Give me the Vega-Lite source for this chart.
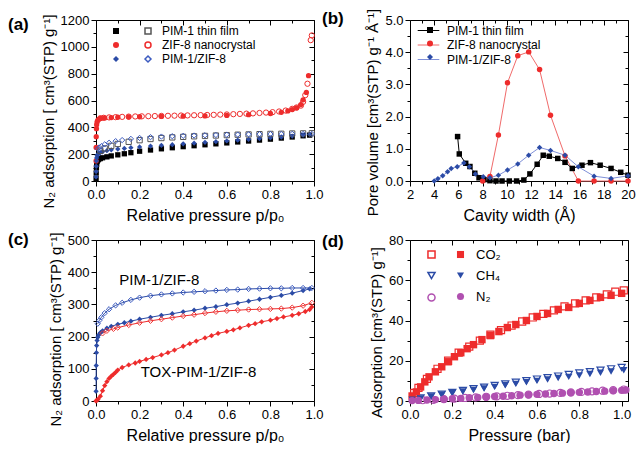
{
"$schema":"https://vega.github.io/schema/vega-lite/v6.json",
"padding":{"left":8,"top":8,"right":0,"bottom":0},
"background":"white",
"config":{
 "font":"Liberation Sans",
 "view":{"stroke":null},
 "axis":{"labelFont":"Liberation Sans","titleFont":"Liberation Sans","labelFontSize":13,"titleFontSize":16,"titleFontWeight":"normal","labelColor":"#000","titleColor":"#000","domainColor":"#000","tickColor":"#000","grid":false,"tickSize":5,"labelPadding":2,"titlePadding":4,"labelFlush":false,"labelOverlap":false},
 "axisX":{"titlePadding":6},
 "axisY":{"titleFontSize":15},
 "legend":{"labelFont":"Liberation Sans","labelColor":"#000","padding":0},
 "title":{"font":"Liberation Sans","color":"#000","fontSize":17,"fontWeight":"bold"}
},
"datasets":{
"iso":[
{"x":0.0005,"y":20,"s":"P","t":"a"},{"x":0.001,"y":60,"s":"P","t":"a"},{"x":0.002,"y":100,"s":"P","t":"a"},{"x":0.003,"y":125,"s":"P","t":"a"},{"x":0.005,"y":145,"s":"P","t":"a"},{"x":0.008,"y":155,"s":"P","t":"a"},{"x":0.012,"y":162,"s":"P","t":"a"},{"x":0.02,"y":167,"s":"P","t":"a"},{"x":0.03,"y":173,"s":"P","t":"a"},{"x":0.05,"y":180,"s":"P","t":"a"},{"x":0.07,"y":187,"s":"P","t":"a"},{"x":0.1,"y":195,"s":"P","t":"a"},{"x":0.13,"y":203,"s":"P","t":"a"},{"x":0.16,"y":211,"s":"P","t":"a"},{"x":0.2,"y":222,"s":"P","t":"a"},{"x":0.25,"y":231,"s":"P","t":"a"},{"x":0.3,"y":240,"s":"P","t":"a"},{"x":0.35,"y":248,"s":"P","t":"a"},{"x":0.4,"y":256,"s":"P","t":"a"},{"x":0.45,"y":263,"s":"P","t":"a"},{"x":0.5,"y":270,"s":"P","t":"a"},{"x":0.55,"y":277,"s":"P","t":"a"},{"x":0.6,"y":284,"s":"P","t":"a"},{"x":0.65,"y":291,"s":"P","t":"a"},{"x":0.7,"y":298,"s":"P","t":"a"},{"x":0.75,"y":305,"s":"P","t":"a"},{"x":0.8,"y":312,"s":"P","t":"a"},{"x":0.85,"y":320,"s":"P","t":"a"},{"x":0.9,"y":328,"s":"P","t":"a"},{"x":0.95,"y":337,"s":"P","t":"a"},{"x":0.98,"y":342,"s":"P","t":"a"},
{"x":0.99,"y":356,"s":"P","t":"d"},{"x":0.95,"y":355,"s":"P","t":"d"},{"x":0.9,"y":354,"s":"P","t":"d"},{"x":0.85,"y":352,"s":"P","t":"d"},{"x":0.8,"y":351,"s":"P","t":"d"},{"x":0.75,"y":349,"s":"P","t":"d"},{"x":0.7,"y":347,"s":"P","t":"d"},{"x":0.65,"y":345,"s":"P","t":"d"},{"x":0.6,"y":342,"s":"P","t":"d"},{"x":0.55,"y":339,"s":"P","t":"d"},{"x":0.5,"y":336,"s":"P","t":"d"},{"x":0.45,"y":333,"s":"P","t":"d"},{"x":0.4,"y":329,"s":"P","t":"d"},{"x":0.35,"y":325,"s":"P","t":"d"},{"x":0.3,"y":320,"s":"P","t":"d"},{"x":0.25,"y":313,"s":"P","t":"d"},{"x":0.2,"y":304,"s":"P","t":"d"},{"x":0.15,"y":292,"s":"P","t":"d"},{"x":0.1,"y":276,"s":"P","t":"d"},{"x":0.07,"y":262,"s":"P","t":"d"},{"x":0.04,"y":243,"s":"P","t":"d"},{"x":0.02,"y":225,"s":"P","t":"d"},
{"x":0.0003,"y":150,"s":"Z","t":"a"},{"x":0.0006,"y":250,"s":"Z","t":"a"},{"x":0.001,"y":330,"s":"Z","t":"a"},{"x":0.002,"y":390,"s":"Z","t":"a"},{"x":0.003,"y":420,"s":"Z","t":"a"},{"x":0.005,"y":440,"s":"Z","t":"a"},{"x":0.008,"y":452,"s":"Z","t":"a"},{"x":0.012,"y":460,"s":"Z","t":"a"},{"x":0.02,"y":466,"s":"Z","t":"a"},{"x":0.04,"y":470,"s":"Z","t":"a"},{"x":0.07,"y":473,"s":"Z","t":"a"},{"x":0.1,"y":475,"s":"Z","t":"a"},{"x":0.15,"y":477,"s":"Z","t":"a"},{"x":0.2,"y":479,"s":"Z","t":"a"},{"x":0.3,"y":481,"s":"Z","t":"a"},{"x":0.4,"y":483,"s":"Z","t":"a"},{"x":0.5,"y":485,"s":"Z","t":"a"},{"x":0.6,"y":489,"s":"Z","t":"a"},{"x":0.7,"y":494,"s":"Z","t":"a"},{"x":0.8,"y":503,"s":"Z","t":"a"},{"x":0.85,"y":512,"s":"Z","t":"a"},{"x":0.88,"y":522,"s":"Z","t":"a"},{"x":0.9,"y":532,"s":"Z","t":"a"},{"x":0.92,"y":545,"s":"Z","t":"a"},{"x":0.94,"y":570,"s":"Z","t":"a"},{"x":0.95,"y":605,"s":"Z","t":"a"},{"x":0.965,"y":660,"s":"Z","t":"a"},{"x":0.975,"y":785,"s":"Z","t":"a"},
{"x":0.99,"y":1085,"s":"Z","t":"d"},{"x":0.985,"y":1050,"s":"Z","t":"d"},{"x":0.97,"y":725,"s":"Z","t":"d"},{"x":0.96,"y":640,"s":"Z","t":"d"},{"x":0.95,"y":590,"s":"Z","t":"d"},{"x":0.94,"y":562,"s":"Z","t":"d"},{"x":0.92,"y":548,"s":"Z","t":"d"},{"x":0.9,"y":538,"s":"Z","t":"d"},{"x":0.87,"y":525,"s":"Z","t":"d"},{"x":0.84,"y":518,"s":"Z","t":"d"},{"x":0.81,"y":513,"s":"Z","t":"d"},{"x":0.78,"y":510,"s":"Z","t":"d"},{"x":0.75,"y":507,"s":"Z","t":"d"},{"x":0.72,"y":504,"s":"Z","t":"d"},{"x":0.69,"y":502,"s":"Z","t":"d"},{"x":0.66,"y":500,"s":"Z","t":"d"},{"x":0.63,"y":498,"s":"Z","t":"d"},{"x":0.6,"y":496,"s":"Z","t":"d"},{"x":0.57,"y":495,"s":"Z","t":"d"},{"x":0.54,"y":493,"s":"Z","t":"d"},{"x":0.51,"y":492,"s":"Z","t":"d"},{"x":0.48,"y":491,"s":"Z","t":"d"},{"x":0.45,"y":490,"s":"Z","t":"d"},{"x":0.42,"y":489,"s":"Z","t":"d"},{"x":0.39,"y":488,"s":"Z","t":"d"},{"x":0.36,"y":487,"s":"Z","t":"d"},{"x":0.33,"y":486,"s":"Z","t":"d"},{"x":0.3,"y":485,"s":"Z","t":"d"},{"x":0.27,"y":484,"s":"Z","t":"d"},{"x":0.24,"y":483,"s":"Z","t":"d"},{"x":0.21,"y":482,"s":"Z","t":"d"},{"x":0.18,"y":481,"s":"Z","t":"d"},{"x":0.15,"y":480,"s":"Z","t":"d"},{"x":0.12,"y":478,"s":"Z","t":"d"},{"x":0.09,"y":476,"s":"Z","t":"d"},{"x":0.06,"y":474,"s":"Z","t":"d"},{"x":0.035,"y":471,"s":"Z","t":"d"},{"x":0.02,"y":468,"s":"Z","t":"d"},
{"x":0.0003,"y":30,"s":"M","t":"a"},{"x":0.0006,"y":70,"s":"M","t":"a"},{"x":0.001,"y":110,"s":"M","t":"a"},{"x":0.002,"y":150,"s":"M","t":"a"},{"x":0.003,"y":172,"s":"M","t":"a"},{"x":0.005,"y":188,"s":"M","t":"a"},{"x":0.008,"y":198,"s":"M","t":"a"},{"x":0.012,"y":205,"s":"M","t":"a"},{"x":0.02,"y":212,"s":"M","t":"a"},{"x":0.03,"y":218,"s":"M","t":"a"},{"x":0.05,"y":226,"s":"M","t":"a"},{"x":0.07,"y":232,"s":"M","t":"a"},{"x":0.1,"y":238,"s":"M","t":"a"},{"x":0.13,"y":243,"s":"M","t":"a"},{"x":0.16,"y":248,"s":"M","t":"a"},{"x":0.2,"y":254,"s":"M","t":"a"},{"x":0.25,"y":260,"s":"M","t":"a"},{"x":0.3,"y":266,"s":"M","t":"a"},{"x":0.35,"y":271,"s":"M","t":"a"},{"x":0.4,"y":277,"s":"M","t":"a"},{"x":0.45,"y":282,"s":"M","t":"a"},{"x":0.5,"y":288,"s":"M","t":"a"},{"x":0.55,"y":293,"s":"M","t":"a"},{"x":0.6,"y":299,"s":"M","t":"a"},{"x":0.65,"y":304,"s":"M","t":"a"},{"x":0.7,"y":310,"s":"M","t":"a"},{"x":0.75,"y":316,"s":"M","t":"a"},{"x":0.8,"y":322,"s":"M","t":"a"},{"x":0.85,"y":328,"s":"M","t":"a"},{"x":0.9,"y":335,"s":"M","t":"a"},{"x":0.95,"y":343,"s":"M","t":"a"},{"x":0.98,"y":348,"s":"M","t":"a"},
{"x":0.99,"y":351,"s":"M","t":"d"},{"x":0.95,"y":351,"s":"M","t":"d"},{"x":0.9,"y":351,"s":"M","t":"d"},{"x":0.85,"y":350,"s":"M","t":"d"},{"x":0.8,"y":350,"s":"M","t":"d"},{"x":0.75,"y":349,"s":"M","t":"d"},{"x":0.7,"y":348,"s":"M","t":"d"},{"x":0.65,"y":346,"s":"M","t":"d"},{"x":0.6,"y":345,"s":"M","t":"d"},{"x":0.55,"y":343,"s":"M","t":"d"},{"x":0.5,"y":341,"s":"M","t":"d"},{"x":0.45,"y":339,"s":"M","t":"d"},{"x":0.4,"y":337,"s":"M","t":"d"},{"x":0.35,"y":334,"s":"M","t":"d"},{"x":0.3,"y":331,"s":"M","t":"d"},{"x":0.25,"y":327,"s":"M","t":"d"},{"x":0.2,"y":321,"s":"M","t":"d"},{"x":0.16,"y":314,"s":"M","t":"d"},{"x":0.12,"y":305,"s":"M","t":"d"},{"x":0.09,"y":297,"s":"M","t":"d"},{"x":0.06,"y":285,"s":"M","t":"d"},{"x":0.04,"y":273,"s":"M","t":"d"},{"x":0.025,"y":260,"s":"M","t":"d"},{"x":0.015,"y":250,"s":"M","t":"d"},{"x":0.008,"y":240,"s":"M","t":"d"},
{"x":0,"y":0,"s":"T","t":"a"},{"x":0.005,"y":3,"s":"T","t":"a"},{"x":0.01,"y":6,"s":"T","t":"a"},{"x":0.02,"y":15,"s":"T","t":"a"},{"x":0.03,"y":32,"s":"T","t":"a"},{"x":0.04,"y":48,"s":"T","t":"a"},{"x":0.05,"y":60,"s":"T","t":"a"},{"x":0.06,"y":70,"s":"T","t":"a"},{"x":0.07,"y":77,"s":"T","t":"a"},{"x":0.08,"y":83,"s":"T","t":"a"},{"x":0.09,"y":89,"s":"T","t":"a"},{"x":0.1,"y":96,"s":"T","t":"a"},{"x":0.12,"y":104,"s":"T","t":"a"},{"x":0.15,"y":112,"s":"T","t":"a"},{"x":0.18,"y":118,"s":"T","t":"a"},{"x":0.2,"y":123,"s":"T","t":"a"},{"x":0.23,"y":129,"s":"T","t":"a"},{"x":0.26,"y":135,"s":"T","t":"a"},{"x":0.3,"y":143,"s":"T","t":"a"},{"x":0.33,"y":150,"s":"T","t":"a"},{"x":0.36,"y":158,"s":"T","t":"a"},{"x":0.4,"y":170,"s":"T","t":"a"},{"x":0.43,"y":178,"s":"T","t":"a"},{"x":0.46,"y":186,"s":"T","t":"a"},{"x":0.5,"y":196,"s":"T","t":"a"},{"x":0.53,"y":203,"s":"T","t":"a"},{"x":0.56,"y":210,"s":"T","t":"a"},{"x":0.6,"y":216,"s":"T","t":"a"},{"x":0.63,"y":221,"s":"T","t":"a"},{"x":0.66,"y":227,"s":"T","t":"a"},{"x":0.7,"y":235,"s":"T","t":"a"},{"x":0.73,"y":240,"s":"T","t":"a"},{"x":0.76,"y":246,"s":"T","t":"a"},{"x":0.8,"y":251,"s":"T","t":"a"},{"x":0.83,"y":256,"s":"T","t":"a"},{"x":0.86,"y":261,"s":"T","t":"a"},{"x":0.9,"y":266,"s":"T","t":"a"},{"x":0.93,"y":271,"s":"T","t":"a"},{"x":0.96,"y":278,"s":"T","t":"a"},{"x":0.98,"y":284,"s":"T","t":"a"},{"x":0.99,"y":292,"s":"T","t":"a"},
{"x":0.99,"y":305,"s":"T","t":"d"},{"x":0.95,"y":296,"s":"T","t":"d"},{"x":0.9,"y":290,"s":"T","t":"d"},{"x":0.85,"y":287,"s":"T","t":"d"},{"x":0.8,"y":286,"s":"T","t":"d"},{"x":0.75,"y":285,"s":"T","t":"d"},{"x":0.7,"y":284,"s":"T","t":"d"},{"x":0.65,"y":282,"s":"T","t":"d"},{"x":0.6,"y":280,"s":"T","t":"d"},{"x":0.55,"y":277,"s":"T","t":"d"},{"x":0.5,"y":273,"s":"T","t":"d"},{"x":0.45,"y":268,"s":"T","t":"d"},{"x":0.4,"y":264,"s":"T","t":"d"},{"x":0.35,"y":259,"s":"T","t":"d"},{"x":0.3,"y":254,"s":"T","t":"d"},{"x":0.25,"y":249,"s":"T","t":"d"},{"x":0.2,"y":243,"s":"T","t":"d"},{"x":0.15,"y":236,"s":"T","t":"d"},{"x":0.1,"y":228,"s":"T","t":"d"},{"x":0.08,"y":224,"s":"T","t":"d"},{"x":0.05,"y":218,"s":"T","t":"d"},{"x":0.03,"y":210,"s":"T","t":"d"}
],
"psd":[
{"x":5.93,"y":1.38,"s":"P"},{"x":6.07,"y":0.84,"s":"P"},{"x":6.6,"y":0.55,"s":"P"},{"x":6.95,"y":0.45,"s":"P"},{"x":7.35,"y":0.24,"s":"P"},{"x":7.7,"y":0.1,"s":"P"},{"x":8.1,"y":0.04,"s":"P"},{"x":8.6,"y":0.01,"s":"P"},{"x":9.1,"y":0,"s":"P"},{"x":9.6,"y":0,"s":"P"},{"x":10.2,"y":0,"s":"P"},{"x":10.8,"y":0,"s":"P"},{"x":11.4,"y":0.03,"s":"P"},{"x":11.9,"y":0.22,"s":"P"},{"x":12.5,"y":0.52,"s":"P"},{"x":13.0,"y":0.8,"s":"P"},{"x":13.5,"y":0.77,"s":"P"},{"x":14.2,"y":0.7,"s":"P"},{"x":14.8,"y":0.58,"s":"P"},{"x":15.4,"y":0.39,"s":"P"},{"x":16.2,"y":0.49,"s":"P"},{"x":16.9,"y":0.57,"s":"P"},{"x":17.7,"y":0.49,"s":"P"},{"x":18.6,"y":0.39,"s":"P"},{"x":19.4,"y":0.27,"s":"P"},{"x":20,"y":0.18,"s":"P"},
{"x":8.0,"y":0,"s":"Z"},{"x":8.6,"y":0.14,"s":"Z"},{"x":9.3,"y":1.43,"s":"Z"},{"x":10.05,"y":3.05,"s":"Z"},{"x":10.9,"y":3.89,"s":"Z"},{"x":11.8,"y":4.01,"s":"Z"},{"x":12.7,"y":3.46,"s":"Z"},{"x":13.6,"y":2.04,"s":"Z"},{"x":14.8,"y":0.78,"s":"Z"},{"x":15.9,"y":0,"s":"Z"},{"x":17.2,"y":0,"s":"Z"},{"x":18.6,"y":0,"s":"Z"},{"x":20,"y":0,"s":"Z"},
{"x":4.0,"y":0,"s":"M"},{"x":4.3,"y":0.07,"s":"M"},{"x":4.7,"y":0.16,"s":"M"},{"x":5.1,"y":0.29,"s":"M"},{"x":5.4,"y":0.39,"s":"M"},{"x":5.9,"y":0.44,"s":"M"},{"x":6.45,"y":0.56,"s":"M"},{"x":6.9,"y":0.44,"s":"M"},{"x":7.4,"y":0.22,"s":"M"},{"x":8.05,"y":0.13,"s":"M"},{"x":8.6,"y":0.1,"s":"M"},{"x":9.3,"y":0.18,"s":"M"},{"x":10.05,"y":0.34,"s":"M"},{"x":10.9,"y":0.53,"s":"M"},{"x":11.8,"y":0.8,"s":"M"},{"x":12.7,"y":1.04,"s":"M"},{"x":13.6,"y":0.95,"s":"M"},{"x":14.8,"y":0.8,"s":"M"},{"x":15.9,"y":0.44,"s":"M"},{"x":17.2,"y":0.15,"s":"M"},{"x":18.6,"y":0.08,"s":"M"},{"x":20,"y":0.16,"s":"M"}
],
"gas":[
{"x":0.01,"y":2.5,"g":"C","t":"a"},{"x":0.03,"y":4.5,"g":"C","t":"a"},{"x":0.05,"y":7,"g":"C","t":"a"},{"x":0.07,"y":9.5,"g":"C","t":"a"},{"x":0.09,"y":12,"g":"C","t":"a"},{"x":0.12,"y":14.5,"g":"C","t":"a"},{"x":0.15,"y":17,"g":"C","t":"a"},{"x":0.18,"y":19.5,"g":"C","t":"a"},{"x":0.21,"y":22,"g":"C","t":"a"},{"x":0.24,"y":24,"g":"C","t":"a"},{"x":0.27,"y":26,"g":"C","t":"a"},{"x":0.3,"y":28,"g":"C","t":"a"},{"x":0.34,"y":30.5,"g":"C","t":"a"},{"x":0.38,"y":32.5,"g":"C","t":"a"},{"x":0.42,"y":34.5,"g":"C","t":"a"},{"x":0.46,"y":36.5,"g":"C","t":"a"},{"x":0.5,"y":38,"g":"C","t":"a"},{"x":0.55,"y":40,"g":"C","t":"a"},{"x":0.6,"y":42,"g":"C","t":"a"},{"x":0.65,"y":43.5,"g":"C","t":"a"},{"x":0.7,"y":45.5,"g":"C","t":"a"},{"x":0.75,"y":46.5,"g":"C","t":"a"},{"x":0.8,"y":48.5,"g":"C","t":"a"},{"x":0.85,"y":50,"g":"C","t":"a"},{"x":0.9,"y":51.5,"g":"C","t":"a"},{"x":0.95,"y":52.5,"g":"C","t":"a"},{"x":1.0,"y":53.5,"g":"C","t":"a"},
{"x":1.01,"y":55,"g":"C","t":"d"},{"x":0.97,"y":54.3,"g":"C","t":"d"},{"x":0.93,"y":53,"g":"C","t":"d"},{"x":0.88,"y":51.5,"g":"C","t":"d"},{"x":0.83,"y":50,"g":"C","t":"d"},{"x":0.78,"y":48.5,"g":"C","t":"d"},{"x":0.73,"y":47,"g":"C","t":"d"},{"x":0.68,"y":45,"g":"C","t":"d"},{"x":0.63,"y":43.3,"g":"C","t":"d"},{"x":0.58,"y":41.5,"g":"C","t":"d"},{"x":0.53,"y":39.5,"g":"C","t":"d"},{"x":0.48,"y":37.5,"g":"C","t":"d"},{"x":0.43,"y":35.2,"g":"C","t":"d"},{"x":0.38,"y":33,"g":"C","t":"d"},{"x":0.33,"y":30,"g":"C","t":"d"},{"x":0.28,"y":27,"g":"C","t":"d"},{"x":0.23,"y":24,"g":"C","t":"d"},{"x":0.18,"y":20,"g":"C","t":"d"},{"x":0.13,"y":16,"g":"C","t":"d"},{"x":0.08,"y":11,"g":"C","t":"d"},{"x":0.04,"y":6.5,"g":"C","t":"d"},{"x":0.02,"y":4,"g":"C","t":"d"},
{"x":0.01,"y":0.6,"g":"H","t":"a"},{"x":0.05,"y":1.3,"g":"H","t":"a"},{"x":0.1,"y":2.2,"g":"H","t":"a"},{"x":0.15,"y":3.1,"g":"H","t":"a"},{"x":0.2,"y":3.9,"g":"H","t":"a"},{"x":0.25,"y":4.7,"g":"H","t":"a"},{"x":0.3,"y":5.5,"g":"H","t":"a"},{"x":0.35,"y":6.2,"g":"H","t":"a"},{"x":0.4,"y":7,"g":"H","t":"a"},{"x":0.45,"y":7.8,"g":"H","t":"a"},{"x":0.5,"y":8.5,"g":"H","t":"a"},{"x":0.55,"y":9.3,"g":"H","t":"a"},{"x":0.6,"y":10,"g":"H","t":"a"},{"x":0.65,"y":10.7,"g":"H","t":"a"},{"x":0.7,"y":11.4,"g":"H","t":"a"},{"x":0.75,"y":12,"g":"H","t":"a"},{"x":0.8,"y":12.7,"g":"H","t":"a"},{"x":0.85,"y":13.4,"g":"H","t":"a"},{"x":0.9,"y":14,"g":"H","t":"a"},{"x":0.95,"y":14.7,"g":"H","t":"a"},{"x":1.01,"y":15.3,"g":"H","t":"a"},
{"x":1.0,"y":16.7,"g":"H","t":"d"},{"x":0.95,"y":16,"g":"H","t":"d"},{"x":0.9,"y":15.3,"g":"H","t":"d"},{"x":0.85,"y":14.6,"g":"H","t":"d"},{"x":0.8,"y":13.9,"g":"H","t":"d"},{"x":0.75,"y":13.2,"g":"H","t":"d"},{"x":0.7,"y":12.4,"g":"H","t":"d"},{"x":0.65,"y":11.6,"g":"H","t":"d"},{"x":0.6,"y":10.9,"g":"H","t":"d"},{"x":0.55,"y":10.1,"g":"H","t":"d"},{"x":0.5,"y":9.3,"g":"H","t":"d"},{"x":0.45,"y":8.5,"g":"H","t":"d"},{"x":0.4,"y":7.7,"g":"H","t":"d"},{"x":0.35,"y":6.9,"g":"H","t":"d"},{"x":0.3,"y":6.1,"g":"H","t":"d"},{"x":0.25,"y":5.2,"g":"H","t":"d"},{"x":0.2,"y":4.3,"g":"H","t":"d"},{"x":0.15,"y":3.4,"g":"H","t":"d"},{"x":0.1,"y":2.5,"g":"H","t":"d"},{"x":0.05,"y":1.5,"g":"H","t":"d"},
{"x":0.01,"y":0.2,"g":"N","t":"a"},{"x":0.04,"y":0.3,"g":"N","t":"a"},{"x":0.08,"y":0.5,"g":"N","t":"a"},{"x":0.12,"y":0.7,"g":"N","t":"a"},{"x":0.16,"y":0.9,"g":"N","t":"a"},{"x":0.2,"y":1.1,"g":"N","t":"a"},{"x":0.24,"y":1.3,"g":"N","t":"a"},{"x":0.28,"y":1.6,"g":"N","t":"a"},{"x":0.32,"y":1.8,"g":"N","t":"a"},{"x":0.36,"y":2.0,"g":"N","t":"a"},{"x":0.4,"y":2.2,"g":"N","t":"a"},{"x":0.44,"y":2.4,"g":"N","t":"a"},{"x":0.48,"y":2.6,"g":"N","t":"a"},{"x":0.52,"y":2.9,"g":"N","t":"a"},{"x":0.56,"y":3.1,"g":"N","t":"a"},{"x":0.6,"y":3.3,"g":"N","t":"a"},{"x":0.64,"y":3.5,"g":"N","t":"a"},{"x":0.68,"y":3.7,"g":"N","t":"a"},{"x":0.72,"y":3.9,"g":"N","t":"a"},{"x":0.76,"y":4.1,"g":"N","t":"a"},{"x":0.8,"y":4.3,"g":"N","t":"a"},{"x":0.84,"y":4.5,"g":"N","t":"a"},{"x":0.88,"y":4.7,"g":"N","t":"a"},{"x":0.92,"y":4.9,"g":"N","t":"a"},{"x":0.96,"y":5.1,"g":"N","t":"a"},{"x":1.0,"y":5.3,"g":"N","t":"a"},{"x":1.02,"y":5.5,"g":"N","t":"a"},
{"x":1.01,"y":5.7,"g":"N","t":"d"},{"x":0.96,"y":5.4,"g":"N","t":"d"},{"x":0.91,"y":5.1,"g":"N","t":"d"},{"x":0.86,"y":4.8,"g":"N","t":"d"},{"x":0.81,"y":4.5,"g":"N","t":"d"},{"x":0.76,"y":4.3,"g":"N","t":"d"},{"x":0.71,"y":4.0,"g":"N","t":"d"},{"x":0.66,"y":3.7,"g":"N","t":"d"},{"x":0.61,"y":3.5,"g":"N","t":"d"},{"x":0.56,"y":3.2,"g":"N","t":"d"},{"x":0.51,"y":2.9,"g":"N","t":"d"},{"x":0.46,"y":2.6,"g":"N","t":"d"},{"x":0.41,"y":2.3,"g":"N","t":"d"},{"x":0.36,"y":2.1,"g":"N","t":"d"},{"x":0.31,"y":1.8,"g":"N","t":"d"},{"x":0.26,"y":1.5,"g":"N","t":"d"},{"x":0.21,"y":1.2,"g":"N","t":"d"},{"x":0.16,"y":0.9,"g":"N","t":"d"},{"x":0.11,"y":0.6,"g":"N","t":"d"},{"x":0.06,"y":0.4,"g":"N","t":"d"}
]
},
"columns":2,
"spacing":{"row":59,"column":96},
"bounds":"flush",
"concat":[
{
 "width":218,"height":161,
 "title":{"text":"(a)","anchor":"start","frame":"group","dx":-88,"offset":-20},
 "data":{"name":"iso"},
 "layer":[
  {"encoding":{
    "x":{"field":"x","type":"quantitative","scale":{"domain":[0,1],"nice":false},"axis":{"values":[0,0.2,0.4,0.6,0.8,1],"format":".1f","title":"Relative pressure p/p₀"}},
    "y":{"field":"y","type":"quantitative","scale":{"domain":[0,1200],"nice":false},"axis":{"values":[0,200,400,600,800,1000,1200],"format":"d","title":"N₂ adsorption [ cm³(STP) g⁻¹]","titleY":91}}},
   "layer":[
    {"transform":[{"filter":"datum.t=='a' && (datum.s=='P' || datum.s=='Z' || datum.s=='M')"}],
     "mark":{"type":"point","filled":true,"size":28,"opacity":1},
     "encoding":{
      "color":{"field":"s","type":"nominal","scale":{"domain":["P","Z","M"],"range":["#000000","#EE2C2C","#2B4BA6"]},"legend":{"orient":"none","legendX":14,"legendY":5,"title":null,"labelExpr":"''","labelFontSize":12,"rowPadding":2,"symbolSize":36}},
      "shape":{"field":"s","type":"nominal","scale":{"domain":["P","Z","M"],"range":["square","circle","diamond"]},"legend":{"orient":"none","legendX":14,"legendY":5,"title":null,"labelExpr":"''","labelFontSize":12,"rowPadding":2,"symbolSize":36}}}},
    {"transform":[{"filter":"datum.t=='d' && (datum.s=='P' || datum.s=='Z' || datum.s=='M')"}],
     "mark":{"type":"point","filled":false,"size":28,"opacity":1,"strokeWidth":1},
     "encoding":{
      "color":{"field":"s","type":"nominal","scale":{"domain":["P","Z","M"],"range":["#555555","#EE2C2C","#3C5BC0"]},"legend":{"orient":"none","legendX":46,"legendY":5,"title":null,"labelFontSize":12,"labelOffset":8,"rowPadding":2,"symbolSize":36,"labelExpr":"datum.label=='P'?'PIM-1 thin film':datum.label=='Z'?'ZIF-8 nanocrystal':'PIM-1/ZIF-8'"}},
      "shape":{"field":"s","type":"nominal","scale":{"domain":["P","Z","M"],"range":["square","circle","diamond"]},"legend":{"orient":"none","legendX":46,"legendY":5,"title":null,"labelFontSize":12,"labelOffset":8,"rowPadding":2,"symbolSize":36,"labelExpr":"datum.label=='P'?'PIM-1 thin film':datum.label=='Z'?'ZIF-8 nanocrystal':'PIM-1/ZIF-8'"}}}}
   ],
   "resolve":{"scale":{"color":"independent","shape":"independent"}}},
  {"mark":{"type":"point","opacity":0,"clip":true},"encoding":{
    "x":{"field":"x","type":"quantitative","scale":{"domain":[0,1],"nice":false},"axis":{"orient":"bottom","values":[0.1,0.3,0.5,0.7,0.9],"labels":false,"domain":false,"tickSize":3,"title":null}},
    "y":{"field":"y","type":"quantitative","scale":{"domain":[0,1200],"nice":false},"axis":{"orient":"left","values":[100,300,500,700,900,1100],"labels":false,"domain":false,"tickSize":3,"title":null}}}},
  {"mark":{"type":"point","opacity":0,"clip":true},"encoding":{
    "x":{"field":"x","type":"quantitative","scale":{"domain":[0,1],"nice":false},"axis":{"orient":"top","values":[0,0.2,0.4,0.6,0.8,1],"labels":false,"tickSize":-5,"title":null}},
    "y":{"field":"y","type":"quantitative","scale":{"domain":[0,1200],"nice":false},"axis":{"orient":"right","values":[0,200,400,600,800,1000,1200],"labels":false,"tickSize":-5,"title":null}}}},
  {"mark":{"type":"point","opacity":0,"clip":true},"encoding":{
    "x":{"field":"x","type":"quantitative","scale":{"domain":[0,1],"nice":false},"axis":{"orient":"top","values":[0.1,0.3,0.5,0.7,0.9],"labels":false,"domain":false,"tickSize":-3,"title":null}},
    "y":{"field":"y","type":"quantitative","scale":{"domain":[0,1200],"nice":false},"axis":{"orient":"right","values":[100,300,500,700,900,1100],"labels":false,"domain":false,"tickSize":-3,"title":null}}}}
 ],
 "resolve":{"axis":{"x":"independent","y":"independent"}}
},
{
 "width":218,"height":161,
 "title":{"text":"(b)","anchor":"start","frame":"group","dx":-88,"offset":-20},
 "data":{"name":"psd"},
 "layer":[
  {"encoding":{
    "x":{"field":"x","type":"quantitative","scale":{"domain":[2,20],"nice":false},"axis":{"values":[2,4,6,8,10,12,14,16,18,20],"title":"Cavity width (Å)"}},
    "y":{"field":"y","type":"quantitative","scale":{"domain":[0,5],"nice":false},"axis":{"values":[0,1,2,3,4,5],"format":".1f","title":"Pore volume [cm³(STP) g⁻¹ Å⁻¹]","titleY":92}}},
   "layer":[
    {"mark":{"type":"line","strokeWidth":1},
     "encoding":{"color":{"field":"s","type":"nominal","scale":{"domain":["P","Z","M"],"range":["#000000","#F06A6A","#7F90D8"]},"legend":{"orient":"none","legendX":12,"legendY":4,"title":null,"symbolType":"M-1.8,0H1.8","symbolSize":144,"symbolStrokeWidth":1,"labelFontSize":12,"labelOffset":12,"rowPadding":1.5,"labelExpr":"datum.label=='P'?'PIM-1 thin film':datum.label=='Z'?'ZIF-8 nanocrystal':'PIM-1/ZIF-8'"}}}},
    {"mark":{"type":"point","filled":true,"size":30,"opacity":1},
     "encoding":{
      "color":{"field":"s","type":"nominal","scale":{"domain":["P","Z","M"],"range":["#000000","#EE2C2C","#2B4BA6"]},"legend":{"orient":"none","legendX":14,"legendY":4,"title":null,"labelExpr":"''","labelFontSize":12,"rowPadding":1.5,"symbolSize":36}},
      "shape":{"field":"s","type":"nominal","scale":{"domain":["P","Z","M"],"range":["square","circle","diamond"]},"legend":{"orient":"none","legendX":14,"legendY":4,"title":null,"labelExpr":"''","labelFontSize":12,"rowPadding":1.5,"symbolSize":36}}}}
   ],
   "resolve":{"scale":{"color":"independent","shape":"independent"}}},
  {"mark":{"type":"point","opacity":0,"clip":true},"encoding":{
    "x":{"field":"x","type":"quantitative","scale":{"domain":[2,20],"nice":false},"axis":{"orient":"bottom","values":[3,5,7,9,11,13,15,17,19],"labels":false,"domain":false,"tickSize":3,"title":null}},
    "y":{"field":"y","type":"quantitative","scale":{"domain":[0,5],"nice":false},"axis":{"orient":"left","values":[0.5,1.5,2.5,3.5,4.5],"labels":false,"domain":false,"tickSize":3,"title":null}}}},
  {"mark":{"type":"point","opacity":0,"clip":true},"encoding":{
    "x":{"field":"x","type":"quantitative","scale":{"domain":[2,20],"nice":false},"axis":{"orient":"top","values":[2,4,6,8,10,12,14,16,18,20],"labels":false,"tickSize":-5,"title":null}},
    "y":{"field":"y","type":"quantitative","scale":{"domain":[0,5],"nice":false},"axis":{"orient":"right","values":[0,1,2,3,4,5],"labels":false,"tickSize":-5,"title":null}}}},
  {"mark":{"type":"point","opacity":0,"clip":true},"encoding":{
    "x":{"field":"x","type":"quantitative","scale":{"domain":[2,20],"nice":false},"axis":{"orient":"top","values":[3,5,7,9,11,13,15,17,19],"labels":false,"domain":false,"tickSize":-3,"title":null}},
    "y":{"field":"y","type":"quantitative","scale":{"domain":[0,5],"nice":false},"axis":{"orient":"right","values":[0.5,1.5,2.5,3.5,4.5],"labels":false,"domain":false,"tickSize":-3,"title":null}}}}
 ],
 "resolve":{"axis":{"x":"independent","y":"independent"}}
},
{
 "width":218,"height":161,
 "title":{"text":"(c)","anchor":"start","frame":"group","dx":-88,"offset":-17},
 "data":{"name":"iso"},
 "layer":[
  {"encoding":{
    "x":{"field":"x","type":"quantitative","scale":{"domain":[0,1],"nice":false},"axis":{"values":[0,0.2,0.4,0.6,0.8,1],"format":".1f","title":"Relative pressure p/p₀"}},
    "y":{"field":"y","type":"quantitative","scale":{"domain":[0,500],"nice":false},"axis":{"values":[0,100,200,300,400,500],"title":"N₂ adsorption [ cm³(STP) g⁻¹]","titleY":89}}},
   "layer":[
    {"transform":[{"filter":"datum.s=='M' || datum.s=='T'"}],
     "mark":{"type":"line","strokeWidth":1},
     "encoding":{"color":{"field":"s","type":"nominal","scale":{"domain":["M","T"],"range":["#2B4BA6","#EE2C2C"]},"legend":null},"detail":{"field":"t","type":"nominal"}}},
    {"transform":[{"filter":"datum.t=='a' && (datum.s=='M' || datum.s=='T')"}],
     "mark":{"type":"point","shape":"diamond","filled":true,"size":28,"opacity":1},
     "encoding":{"color":{"field":"s","type":"nominal","scale":{"domain":["M","T"],"range":["#2B4BA6","#EE2C2C"]},"legend":null}}},
    {"transform":[{"filter":"datum.t=='d' && (datum.s=='M' || datum.s=='T')"}],
     "mark":{"type":"point","shape":"diamond","filled":false,"size":28,"opacity":1,"strokeWidth":1},
     "encoding":{"color":{"field":"s","type":"nominal","scale":{"domain":["M","T"],"range":["#3C5BC0","#EE3A3A"]},"legend":null}}},
    {"data":{"values":[{"x":0.29,"y":375,"label":"PIM-1/ZIF-8"},{"x":0.47,"y":90,"label":"TOX-PIM-1/ZIF-8"}]},
     "mark":{"type":"text","fontSize":15,"font":"Liberation Sans","color":"#000"},
     "encoding":{"text":{"field":"label","type":"nominal"}}}
   ],
   "resolve":{"scale":{"color":"independent"}}},
  {"mark":{"type":"point","opacity":0,"clip":true},"encoding":{
    "x":{"field":"x","type":"quantitative","scale":{"domain":[0,1],"nice":false},"axis":{"orient":"bottom","values":[0.1,0.3,0.5,0.7,0.9],"labels":false,"domain":false,"tickSize":3,"title":null}},
    "y":{"field":"y","type":"quantitative","scale":{"domain":[0,500],"nice":false},"axis":{"orient":"left","values":[50,150,250,350,450],"labels":false,"domain":false,"tickSize":3,"title":null}}}},
  {"mark":{"type":"point","opacity":0,"clip":true},"encoding":{
    "x":{"field":"x","type":"quantitative","scale":{"domain":[0,1],"nice":false},"axis":{"orient":"top","values":[0,0.2,0.4,0.6,0.8,1],"labels":false,"tickSize":-5,"title":null}},
    "y":{"field":"y","type":"quantitative","scale":{"domain":[0,500],"nice":false},"axis":{"orient":"right","values":[0,100,200,300,400,500],"labels":false,"tickSize":-5,"title":null}}}},
  {"mark":{"type":"point","opacity":0,"clip":true},"encoding":{
    "x":{"field":"x","type":"quantitative","scale":{"domain":[0,1],"nice":false},"axis":{"orient":"top","values":[0.1,0.3,0.5,0.7,0.9],"labels":false,"domain":false,"tickSize":-3,"title":null}},
    "y":{"field":"y","type":"quantitative","scale":{"domain":[0,500],"nice":false},"axis":{"orient":"right","values":[50,150,250,350,450],"labels":false,"domain":false,"tickSize":-3,"title":null}}}}
 ],
 "resolve":{"axis":{"x":"independent","y":"independent"}}
},
{
 "width":218,"height":161,
 "title":{"text":"(d)","anchor":"start","frame":"group","dx":-88,"offset":-17},
 "data":{"name":"gas"},
 "layer":[
  {"encoding":{
    "x":{"field":"x","type":"quantitative","scale":{"domain":[0,1.03],"nice":false},"axis":{"values":[0,0.2,0.4,0.6,0.8,1],"format":".1f","title":"Pressure (bar)"}},
    "y":{"field":"y","type":"quantitative","scale":{"domain":[0,80],"nice":false},"axis":{"values":[0,20,40,60,80],"title":"Adsorption [cm³(STP) g⁻¹]","titleY":92}}},
   "layer":[
    {"transform":[{"filter":"datum.t=='d'"}],
     "mark":{"type":"point","filled":false,"size":50,"opacity":1,"strokeWidth":1.2},
     "encoding":{
      "color":{"field":"g","type":"nominal","scale":{"domain":["C","H","N"],"range":["#EE2C2C","#2B4BA6","#B050B0"]},"legend":{"orient":"none","legendX":15,"legendY":8,"title":null,"labelExpr":"''","labelFontSize":13,"rowPadding":7,"symbolSize":50}},
      "shape":{"field":"g","type":"nominal","scale":{"domain":["C","H","N"],"range":["square","triangle-down","circle"]},"legend":{"orient":"none","legendX":15,"legendY":8,"title":null,"labelExpr":"''","labelFontSize":13,"rowPadding":7,"symbolSize":50}}}},
    {"transform":[{"filter":"datum.t=='a'"}],
     "mark":{"type":"point","filled":true,"size":55,"opacity":1},
     "encoding":{
      "color":{"field":"g","type":"nominal","scale":{"domain":["C","H","N"],"range":["#EE2C2C","#2B4BA6","#B050B0"]},"legend":{"orient":"none","legendX":44,"legendY":8,"title":null,"labelFontSize":13,"labelOffset":9,"rowPadding":7,"symbolSize":50,"labelExpr":"datum.label=='C'?'CO₂':datum.label=='H'?'CH₄':'N₂'"}},
      "shape":{"field":"g","type":"nominal","scale":{"domain":["C","H","N"],"range":["square","triangle-down","circle"]},"legend":{"orient":"none","legendX":44,"legendY":8,"title":null,"labelFontSize":13,"labelOffset":9,"rowPadding":7,"symbolSize":50,"labelExpr":"datum.label=='C'?'CO₂':datum.label=='H'?'CH₄':'N₂'"}}}}
   ],
   "resolve":{"scale":{"color":"independent","shape":"independent"}}},
  {"mark":{"type":"point","opacity":0,"clip":true},"encoding":{
    "x":{"field":"x","type":"quantitative","scale":{"domain":[0,1.03],"nice":false},"axis":{"orient":"bottom","values":[0.1,0.3,0.5,0.7,0.9],"labels":false,"domain":false,"tickSize":3,"title":null}},
    "y":{"field":"y","type":"quantitative","scale":{"domain":[0,80],"nice":false},"axis":{"orient":"left","values":[10,30,50,70],"labels":false,"domain":false,"tickSize":3,"title":null}}}},
  {"mark":{"type":"point","opacity":0,"clip":true},"encoding":{
    "x":{"field":"x","type":"quantitative","scale":{"domain":[0,1.03],"nice":false},"axis":{"orient":"top","values":[0,0.2,0.4,0.6,0.8,1],"labels":false,"tickSize":-5,"title":null}},
    "y":{"field":"y","type":"quantitative","scale":{"domain":[0,80],"nice":false},"axis":{"orient":"right","values":[0,20,40,60,80],"labels":false,"tickSize":-5,"title":null}}}},
  {"mark":{"type":"point","opacity":0,"clip":true},"encoding":{
    "x":{"field":"x","type":"quantitative","scale":{"domain":[0,1.03],"nice":false},"axis":{"orient":"top","values":[0.1,0.3,0.5,0.7,0.9],"labels":false,"domain":false,"tickSize":-3,"title":null}},
    "y":{"field":"y","type":"quantitative","scale":{"domain":[0,80],"nice":false},"axis":{"orient":"right","values":[10,30,50,70],"labels":false,"domain":false,"tickSize":-3,"title":null}}}}
 ],
 "resolve":{"axis":{"x":"independent","y":"independent"}}
}
]
}
